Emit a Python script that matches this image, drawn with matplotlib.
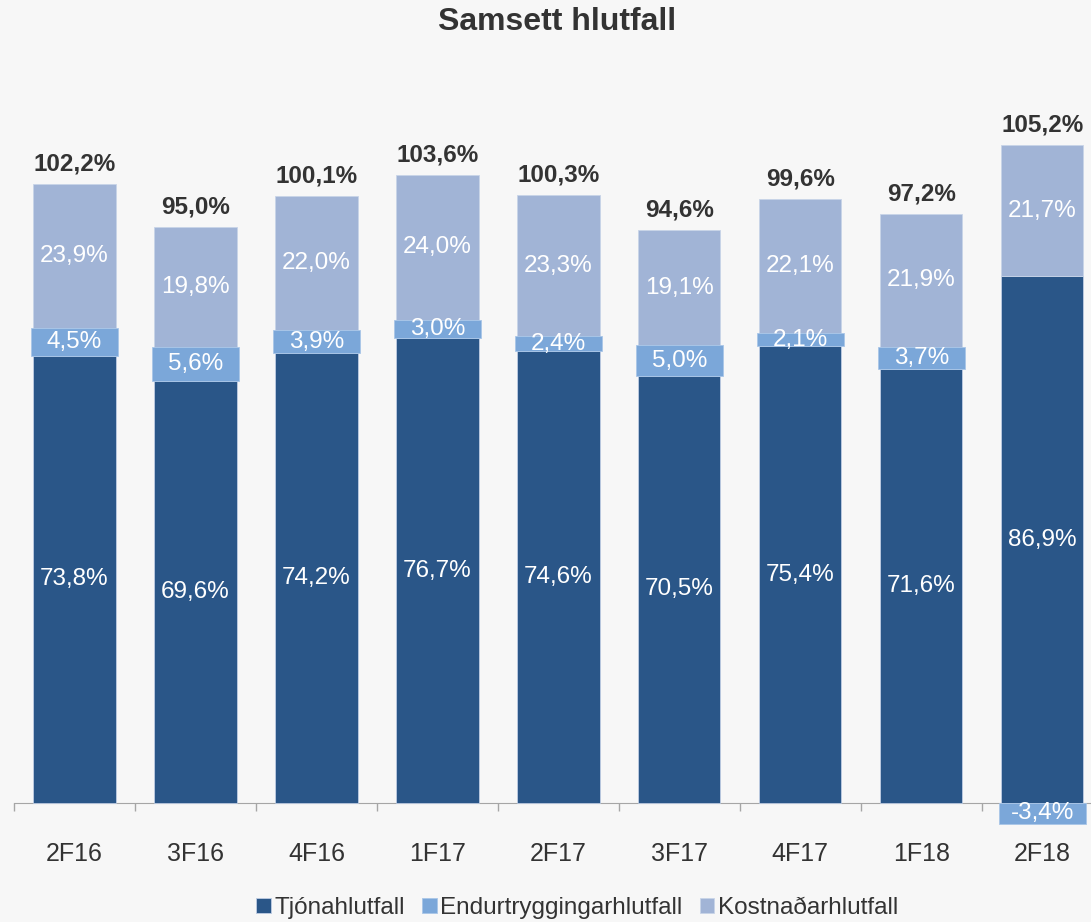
import numpy as np
import matplotlib.pyplot as plt
from matplotlib.ticker import FixedLocator

plt.rcParams['font.family'] = ['Liberation Sans', 'DejaVu Sans']

categories = ['2F16', '3F16', '4F16', '1F17', '2F17', '3F17', '4F17', '1F18', '2F18']
tjon = [73.8, 69.6, 74.2, 76.7, 74.6, 70.5, 75.4, 71.6, 86.9]
endurtr = [4.5, 5.6, 3.9, 3.0, 2.4, 5.0, 2.1, 3.7, -3.4]
kostn = [23.9, 19.8, 22.0, 24.0, 23.3, 19.1, 22.1, 21.9, 21.7]
samtals = ['102,2%', '95,0%', '100,1%', '103,6%', '100,3%', '94,6%', '99,6%', '97,2%', '105,2%']

c_dark = '#2A5688'
c_mid = '#7BA7D9'
c_light = '#A1B4D6'
bg = '#F7F7F7'
txt = '#333333'


def fmt(v):
    return f"{v:.1f}%".replace('.', ',')


fig = plt.figure(figsize=(10.91, 9.22), dpi=100, facecolor=bg)
ax = fig.add_axes([0.0128, 0.1041, 0.998, 0.8137], facecolor=bg)

x = np.arange(len(categories))
w = 0.68

tjon = np.array(tjon)
endurtr = np.array(endurtr)
kostn = np.array(kostn)

# endurtrygging ofan a tjon, nema neikvaett -> undir nulli
e_bottom = np.where(endurtr >= 0, tjon, 0)
k_bottom = tjon + np.clip(endurtr, 0, None)

ax.bar(x, tjon, w, color=c_dark, edgecolor='#BFCDE3', linewidth=0.6, label='Tjónahlutfall', zorder=2)
ax.bar(x, kostn, w, bottom=k_bottom, color=c_light, edgecolor='#C8D4E8', linewidth=0.6,
       label='Kostnaðarhlutfall', zorder=2)
ax.bar(x, endurtr, w + 0.035, bottom=e_bottom, color=c_mid, edgecolor='#A9C6E8', linewidth=0.6,
       label='Endurtryggingarhlutfall', zorder=3)

fs = 17.5
for i in range(len(categories)):
    ax.text(x[i], tjon[i] / 2, fmt(tjon[i]), ha='center', va='center', color='white', fontsize=fs, zorder=4)
    ax.text(x[i], e_bottom[i] + endurtr[i] / 2, fmt(endurtr[i]), ha='center', va='center',
            color='white', fontsize=fs, zorder=4)
    ax.text(x[i], k_bottom[i] + kostn[i] / 2, fmt(kostn[i]), ha='center', va='center',
            color='white', fontsize=fs, zorder=4)
    top = k_bottom[i] + kostn[i]
    ax.text(x[i], top + 3.3, samtals[i], ha='center', va='center', color=txt,
            fontsize=fs, fontweight='bold', zorder=4)

ax.set_xlim(-0.5, len(categories) - 0.5)
ax.set_ylim(-3.8, 120)

for s in ['top', 'right', 'left']:
    ax.spines[s].set_visible(False)
ax.spines['bottom'].set_position(('data', 0))
ax.spines['bottom'].set_color('#A6A6A6')
ax.spines['bottom'].set_zorder(1)
ax.set_yticks([])

ax.set_xticks(x)
ax.set_xticklabels(categories, fontsize=18, color=txt)
ax.tick_params(axis='x', which='major', length=0, pad=28)
ax.xaxis.set_minor_locator(FixedLocator(np.arange(-0.5, len(categories), 1)))
ax.tick_params(axis='x', which='minor', length=6, color='#A6A6A6', width=1)

fig.text(0.511, 1 - 22 / 922, 'Samsett hlutfall', ha='center', va='center',
         fontsize=23, fontweight='bold', color=txt)

h, l = ax.get_legend_handles_labels()
order = [0, 2, 1]
fig.legend([h[i] for i in order], [l[i] for i in order], loc='center',
           bbox_to_anchor=(0.529, 1 - 908 / 922), ncol=3, frameon=False, fontsize=17.5,
           handlelength=0.6, handleheight=0.6, handletextpad=0.15, columnspacing=0.7,
           labelcolor=txt)

fig.savefig('out.png', dpi=100, facecolor=bg)
